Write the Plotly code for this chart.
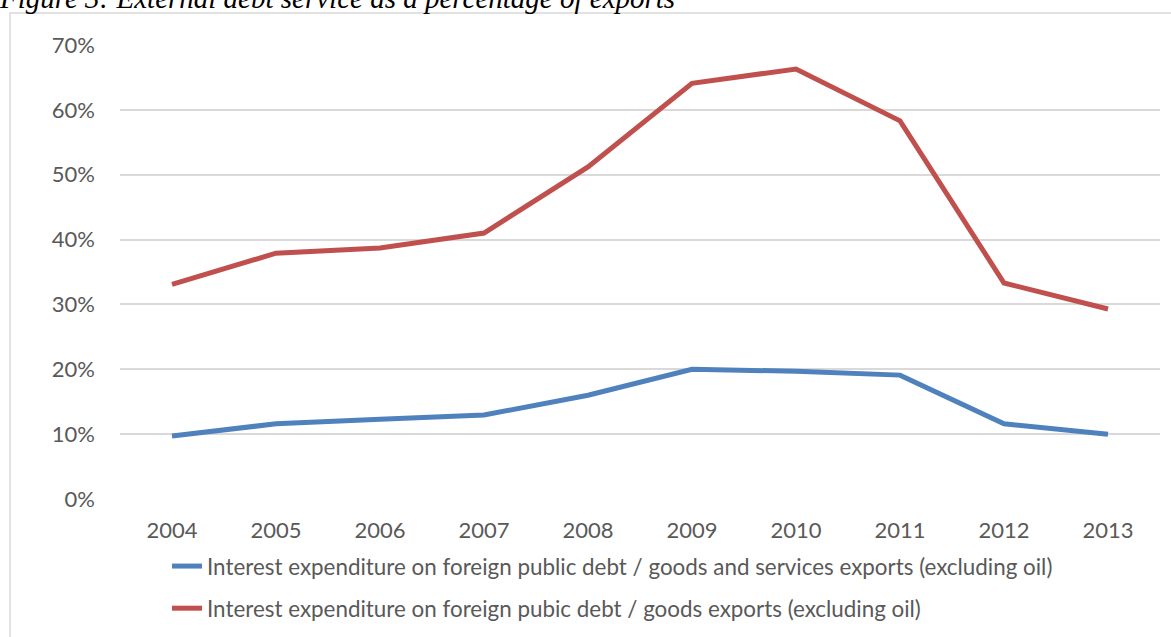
import plotly.graph_objects as go

years = ["2004", "2005", "2006", "2007", "2008", "2009", "2010", "2011", "2012", "2013"]
goods_services = [0.097, 0.116, 0.123, 0.1295, 0.160, 0.200, 0.197, 0.191, 0.116, 0.100]
goods_only = [0.331, 0.379, 0.387, 0.410, 0.512, 0.641, 0.663, 0.583, 0.333, 0.293]
y_ticks = [0, 0.1, 0.2, 0.3, 0.4, 0.5, 0.6, 0.7]
y_tick_text = ["0%", "10%", "20%", "30%", "40%", "50%", "60%", "70%"]
name_gs = "Interest expenditure on foreign public debt / goods and services exports (excluding oil)"
name_g = "Interest expenditure on foreign pubic debt / goods exports (excluding oil)"
title_text = "Figure 3: External debt service as a percentage of exports"

fig = go.Figure()
fig.add_trace(go.Scatter(x=years, y=goods_services, mode="lines", name=name_gs,
                         legendgroup="a",
                         line=dict(color="#4f81bd", width=5)))
fig.add_trace(go.Scatter(x=years, y=goods_only, mode="lines", name=name_g,
                         legendgroup="b",
                         line=dict(color="#c0504d", width=5)))

L, R, T, B = 120, 11, 45, 138
W, H = 1171, 637
pw, ph = W - L - R, H - T - B

def px_x(p):
    return (p - L) / pw

def px_y(p):
    return (H - B - p) / ph

fig.add_shape(type="rect", xref="paper", yref="paper",
              x0=px_x(10), x1=px_x(1185), y0=px_y(13), y1=px_y(650),
              line=dict(color="#d9d9d9", width=1.5), fillcolor="rgba(0,0,0,0)", layer="below")

fig.add_annotation(text=title_text, xref="paper", yref="paper", x=px_x(-3), y=px_y(16),
                   xanchor="left", yanchor="bottom", showarrow=False,
                   font=dict(family="Liberation Serif", size=29, color="#000000", style="italic"))

fig.update_layout(
    width=W, height=H,
    margin=dict(l=L, r=R, t=T, b=B, autoexpand=False),
    paper_bgcolor="white", plot_bgcolor="white",
    font=dict(family="Lato", size=22, color="#595959"),
    showlegend=True,
    legend=dict(x=px_x(167), xanchor="left", y=px_y(545), yanchor="top",
                orientation="v", tracegroupgap=10,
                font=dict(family="Lato", size=22.4, color="#595959"),
                bgcolor="rgba(0,0,0,0)"),
    xaxis=dict(type="category", range=[-0.5, 9.5], showgrid=False, showline=False, ticks="",
               tickfont=dict(size=22, color="#595959"), ticklabelstandoff=16),
    yaxis=dict(range=[0, 0.7], tickvals=y_ticks, ticktext=y_tick_text,
               showgrid=True, gridcolor="#d9d9d9", gridwidth=1.5, zeroline=False,
               showline=False, ticks="", tickfont=dict(size=22, color="#595959"),
               ticklabelstandoff=24),
)

fig.write_html("out.html")
